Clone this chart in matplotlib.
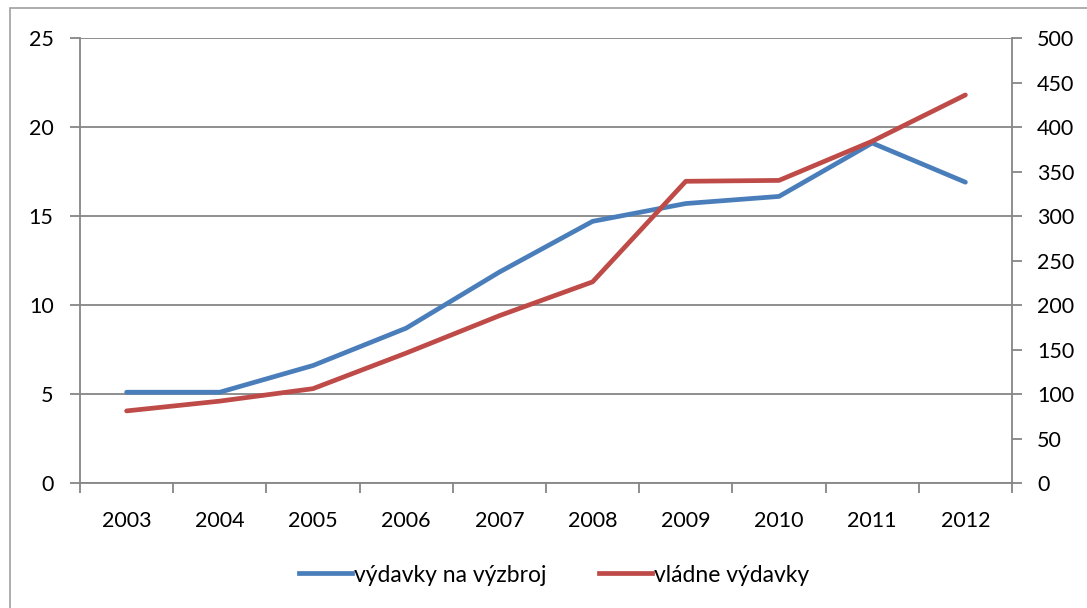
import numpy as np
import matplotlib.pyplot as plt
from matplotlib.patches import Rectangle
from matplotlib.lines import Line2D

# Data
roky = ['2003', '2004', '2005', '2006', '2007', '2008', '2009', '2010', '2011', '2012']
vyzbroj = [5.1, 5.1, 6.6, 8.7, 11.85, 14.7, 15.7, 16.1, 19.1, 16.9]
vladne = [81, 92, 106, 146, 188, 226, 339, 340, 384, 436]

plt.rcParams['font.family'] = ['Lato', 'DejaVu Sans']

modra = '#4a7ebb'
cervena = '#be4b48'
siva = '#868686'

fig = plt.figure(figsize=(10.87, 6.08), dpi=100)
fig.patches.append(Rectangle((10/1087, -0.1), 1.2, 1.1 - 8/608, transform=fig.transFigure,
                             fill=False, edgecolor='#a0a0a0', linewidth=1.2))

ax = fig.add_axes([80/1087, 125/608, 932/1087, 445/608])
ax2 = ax.twinx()

x = np.arange(len(roky))
ax.plot(x, vyzbroj, color=modra, linewidth=3.4, solid_capstyle='round', zorder=3)
ax2.plot(x, vladne, color=cervena, linewidth=3.4, solid_capstyle='round', zorder=3)

ax.set_xlim(-0.5, len(roky) - 0.5)
ax.set_ylim(0, 25)
ax2.set_ylim(0, 500)
ax.set_yticks(np.arange(0, 26, 5))
ax2.set_yticks(np.arange(0, 501, 50))

ax.set_xticks(x)
ax.set_xticklabels(roky)
ax.set_xticks(np.arange(-0.5, len(roky), 1), minor=True)
ax.tick_params(axis='x', which='major', length=0, pad=20, labelsize=15.5)
ax.tick_params(axis='x', which='minor', length=7, width=1.3, color=siva, direction='out')
ax.tick_params(axis='y', length=7, width=1.3, color=siva, labelsize=15.5, pad=12)
ax2.tick_params(axis='y', length=7, width=1.3, color=siva, labelsize=15.5, pad=11)

ax.grid(axis='y', color=siva, linewidth=1.3)
ax.set_axisbelow(True)

for a in (ax, ax2):
    a.spines['top'].set_visible(False)
    for s in ('left', 'right', 'bottom'):
        a.spines[s].set_color(siva)
        a.spines[s].set_linewidth(1.3)
ax2.spines['left'].set_visible(False)
ax2.spines['bottom'].set_visible(False)
ax.spines['right'].set_visible(False)

handles = [Line2D([], [], color=modra, linewidth=3.4),
           Line2D([], [], color=cervena, linewidth=3.4)]
fig.legend(handles, ['výdavky na výzbroj', 'vládne výdavky'], loc='center',
           bbox_to_anchor=(0.51, 1 - 575/608), ncol=2, frameon=False, fontsize=16.5,
           handlelength=2.3, handletextpad=0.1, columnspacing=2.3)

fig.savefig('out.png', dpi=100)
